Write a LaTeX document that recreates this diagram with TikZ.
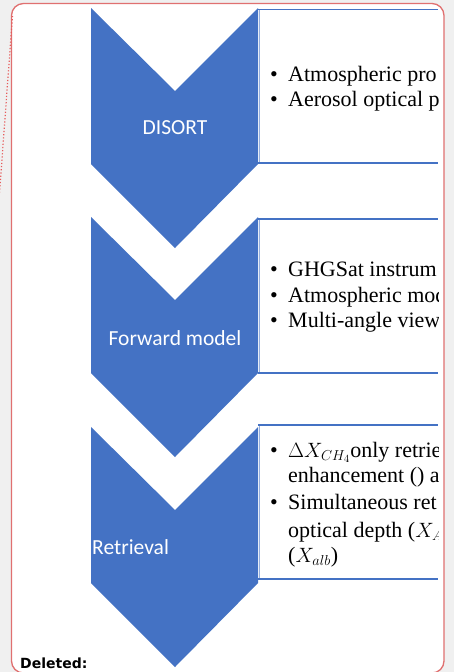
\documentclass[tikz,border=0pt]{standalone}
\usepackage{fontspec}
\setmainfont{Liberation Serif}
\newfontfamily\calibrifont{Carlito}
\newfontfamily\notefont{DejaVu Sans}

\definecolor{chevblue}{RGB}{68,114,196}
\definecolor{boxleft}{RGB}{150,176,222}
\definecolor{bordred}{RGB}{224,112,112}
\definecolor{pagegray}{RGB}{240,240,240}

\tikzset{
  chevron/.style={fill=chevblue, draw=none},
  steplabel/.style={text=white, inner sep=0pt, font=\calibrifont\fontsize{21.5}{24}\selectfont},
  itemline/.style={anchor=base west, inner sep=0pt, font=\fontsize{22}{25}\selectfont},
  itemdot/.style={anchor=base, inner sep=0pt, font=\fontsize{22}{25}\selectfont},
  boxedge/.style={draw=chevblue, line width=1.8pt},
  boxside/.style={draw=boxleft, line width=0.8pt},
}

\begin{document}
\begin{tikzpicture}[x=1pt, y=-1pt]
    \useasboundingbox (0,0) rectangle (454,672);
    \fill[pagegray] (0,0) rectangle (454,672);
    \begin{scope}
        \clip (0,0) rectangle (454,672);
        \filldraw[fill=white, draw=bordred, line width=1.3pt, rounded corners=12pt]
            (11.5,3.5) rectangle (444,673);
        \coordinate (dotA) at (12.5,16);
        \coordinate (dotB) at (-1,200);
        \draw[bordred!80!red, dotted, line width=1.2pt] (dotA) -- (dotB);
    \end{scope}

    % chevrons
    \fill[chevron] (91,8) -- (175,91) -- (258,8) -- (258,164) -- (175,248) -- (91,164) -- cycle;
    \fill[chevron] (91,217) -- (175,300) -- (258,217) -- (258,373) -- (175,457) -- (91,373) -- cycle;
    \fill[chevron] (91,427) -- (175,510) -- (258,427) -- (258,583) -- (175,667) -- (91,583) -- cycle;

    \node[steplabel] (disort) at (175,128) {DISORT};
    \node[steplabel] (forward) at (175,338) {Forward model};
    \node[steplabel, anchor=west] (retrieval) at (92,547) {Retrieval};

    % boxes
    \draw[boxside] (259,9.5) -- (259,163);
    \draw[boxedge] (258,9.5) -- (438,9.5);
    \draw[boxedge] (258,163) -- (438,163);
    \draw[boxside] (259,219) -- (259,373);
    \draw[boxedge] (258,219) -- (438,219);
    \draw[boxedge] (258,373) -- (438,373);
    \draw[boxside] (259,425) -- (259,579);
    \draw[boxedge] (258,425) -- (438,425);
    \draw[boxedge] (258,579) -- (438,579);

    \begin{scope}
        \clip (260,0) rectangle (438,672);
        \node[itemdot] (b1a) at (274,81) {\textbullet};
        \node[itemline] (t1a) at (288,81) {Atmospheric pro};
        \node[itemdot] (b1b) at (274,106) {\textbullet};
        \node[itemline] (t1b) at (288,106) {Aerosol optical p};

        \node[itemdot] (b2a) at (274,276) {\textbullet};
        \node[itemline] (t2a) at (288,276) {GHGSat instrum};
        \node[itemdot] (b2b) at (274,302) {\textbullet};
        \node[itemline] (t2b) at (288,302) {Atmospheric mod};
        \node[itemdot] (b2c) at (274,327) {\textbullet};
        \node[itemline] (t2c) at (288,327) {Multi-angle view};

        \node[itemdot] (b3a) at (274,457) {\textbullet};
        \node[itemline] (t3a) at (288,457) {$\Delta X_{\scriptstyle CH_4}$only retriev};
        \node[itemline] (t3b) at (288,482) {enhancement () a};
        \node[itemdot] (b3b) at (274,509) {\textbullet};
        \node[itemline] (t3c) at (288,509) {Simultaneous ret};
        \node[itemline] (t3d) at (288,537) {optical depth ($X_A$};
        \node[itemline] (t3e) at (288,562) {($X_{\scriptstyle alb}$)};
    \end{scope}

    \node[anchor=base west, inner sep=0pt, font=\notefont\bfseries\fontsize{14}{16}\selectfont] (deleted) at (20,668) {Deleted:};
\end{tikzpicture}
\end{document}
